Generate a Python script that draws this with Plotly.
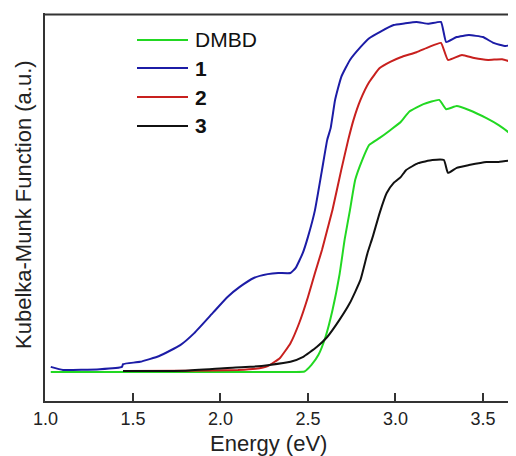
import plotly.graph_objects as go

# ---- data (y in arbitrary units) ----
dmbd_E = [1.03, 1.50, 2.00, 2.40, 2.48, 2.52, 2.56, 2.60, 2.64, 2.68, 2.71, 2.74, 2.77, 2.81,
          2.85, 2.91, 2.97, 3.03, 3.08, 3.16, 3.25, 3.29, 3.35, 3.42, 3.52, 3.59, 3.65, 3.69]
dmbd_K = [7.5, 7.5, 7.5, 7.5, 7.6, 9.3, 11.9, 16.5, 23.4, 32.5, 41.7, 49.2, 57.0, 62.1,
          66.0, 67.8, 69.8, 71.9, 74.6, 76.5, 77.6, 75.2, 76.0, 75.0, 72.9, 71.1, 69.1, 67.3]

c1_E = [1.03, 1.10, 1.31, 1.437, 1.443, 1.54, 1.65, 1.77, 1.85, 1.96, 2.04, 2.11, 2.19, 2.27,
        2.33, 2.40, 2.43, 2.47, 2.50, 2.54, 2.58, 2.61, 2.63, 2.655, 2.69, 2.74, 2.80, 2.85,
        2.91, 2.99, 3.05, 3.12, 3.19, 3.26, 3.29, 3.35, 3.42, 3.50, 3.56, 3.63, 3.69]
c1_K = [8.8, 8.0, 8.2, 8.8, 9.5, 10.1, 11.6, 14.4, 17.5, 22.9, 26.8, 29.4, 31.7, 32.7,
        33.0, 33.0, 34.3, 38.1, 42.3, 49.2, 59.5, 67.3, 70.4, 77.6, 83.5, 87.9, 91.2, 93.5,
        95.1, 96.9, 97.3, 97.7, 97.2, 97.7, 92.5, 93.8, 94.3, 93.8, 92.3, 91.5, 92.3]

c2_E = [1.443, 1.80, 2.10, 2.20, 2.27, 2.34, 2.40, 2.45, 2.50, 2.54, 2.58, 2.61, 2.64, 2.69,
        2.73, 2.76, 2.80, 2.85, 2.91, 2.97, 3.03, 3.12, 3.19, 3.26, 3.30, 3.38, 3.45, 3.53,
        3.61, 3.68]
c2_K = [7.7, 7.8, 8.0, 8.3, 9.0, 11.1, 14.9, 20.1, 26.8, 33.0, 38.9, 44.1, 49.2, 59.5,
        67.3, 72.4, 77.6, 82.2, 85.8, 87.4, 88.6, 89.9, 91.2, 92.3, 87.9, 89.2, 88.4, 87.9,
        88.1, 87.1]

c3_E = [1.443, 1.80, 2.04, 2.17, 2.28, 2.40, 2.47, 2.55, 2.61, 2.68, 2.74, 2.80, 2.84, 2.87,
        2.91, 2.95, 2.99, 3.03, 3.06, 3.13, 3.21, 3.277, 3.30, 3.35, 3.42, 3.52, 3.59, 3.65,
        3.69]
c3_K = [7.7, 7.8, 8.5, 8.8, 9.3, 10.1, 11.3, 13.9, 16.5, 20.9, 25.3, 31.2, 38.1, 42.3,
        48.5, 53.6, 56.2, 57.7, 59.5, 61.3, 62.1, 62.1, 58.8, 60.1, 60.8, 61.6, 61.6, 61.9,
        60.8]

x_ticks = [1.0, 1.5, 2.0, 2.5, 3.0, 3.5]
x_tick_labels = ["1.0", "1.5", "2.0", "2.5", "3.0", "3.5"]

series = [
    ("DMBD", dmbd_E, dmbd_K, "#22d822"),
    ("1", c1_E, c1_K, "#1c1ca6"),
    ("2", c2_E, c2_K, "#c8201e"),
    ("3", c3_E, c3_K, "#111111"),
]

FONT = "Arial, Liberation Sans, sans-serif"

# the page adds an 8px body margin; size the figure so that its plot area lands where
# the reference's does
OFF = 8
W, H = 516 - OFF, 456 - OFF
ML, MT, MR, MB = 45 - OFF, 13 - OFF, 0, 55
PW, PH = W - ML - MR, H - MT - MB

fig = go.Figure()
for name, xs, ys, col in series:
    fig.add_trace(go.Scatter(x=xs, y=ys, mode="lines", name=name,
                             line=dict(color=col, width=2, shape="spline", smoothing=0.4),
                             showlegend=False))

def px_x(px):
    return (px - OFF - ML) / PW

def px_y(py):
    return (H - MB - (py - OFF)) / PH

# top frame line, drawn just inside the plot area
fig.add_shape(type="line", xref="paper", yref="y", layer="above",
              x0=0, x1=1, y0=99.6, y1=99.6,
              line=dict(color="#333333", width=2))

# manual legend (paper coordinates)
rows = [40, 68, 97, 126]
for (name, _, _, col), py in zip(series, rows):
    yy = px_y(py)
    fig.add_shape(type="line", xref="paper", yref="paper", x0=px_x(137), x1=px_x(188),
                  y0=yy, y1=yy, line=dict(color=col, width=2))
    txt = name if name == "DMBD" else "<b>%s</b>" % name
    fig.add_annotation(xref="paper", yref="paper", x=px_x(193), y=yy, text=txt,
                       showarrow=False, xanchor="left", yanchor="middle",
                       font=dict(family=FONT, size=21, color="#111111"))

# axis titles
fig.add_annotation(xref="paper", yref="paper", x=px_x(268), y=px_y(443),
                   text="Energy (eV)", showarrow=False, xanchor="center", yanchor="middle",
                   font=dict(family=FONT, size=22, color="#222222"))
fig.add_annotation(xref="paper", yref="paper", x=px_x(23), y=px_y(205),
                   text="Kubelka-Munk Function (a.u.)", showarrow=False, textangle=-90,
                   xanchor="center", yanchor="middle",
                   font=dict(family=FONT, size=22, color="#222222"))

fig.update_layout(
    width=W, height=H,
    margin=dict(l=ML, r=MR, t=MT, b=MB, pad=0),
    paper_bgcolor="white", plot_bgcolor="white",
    xaxis=dict(range=[0.997, 3.689], tickvals=x_ticks, ticktext=x_tick_labels,
               ticks="inside", ticklen=8, tickwidth=2, tickcolor="#333333",
               showline=True, linewidth=2, linecolor="#333333", mirror=False,
               showgrid=False, zeroline=False,
               tickfont=dict(family=FONT, size=18, color="#222222")),
    yaxis=dict(range=[0, 100], showticklabels=False, ticks="",
               showline=True, linewidth=2, linecolor="#333333", mirror=False,
               showgrid=False, zeroline=False),
)

fig.write_html("out.html")
